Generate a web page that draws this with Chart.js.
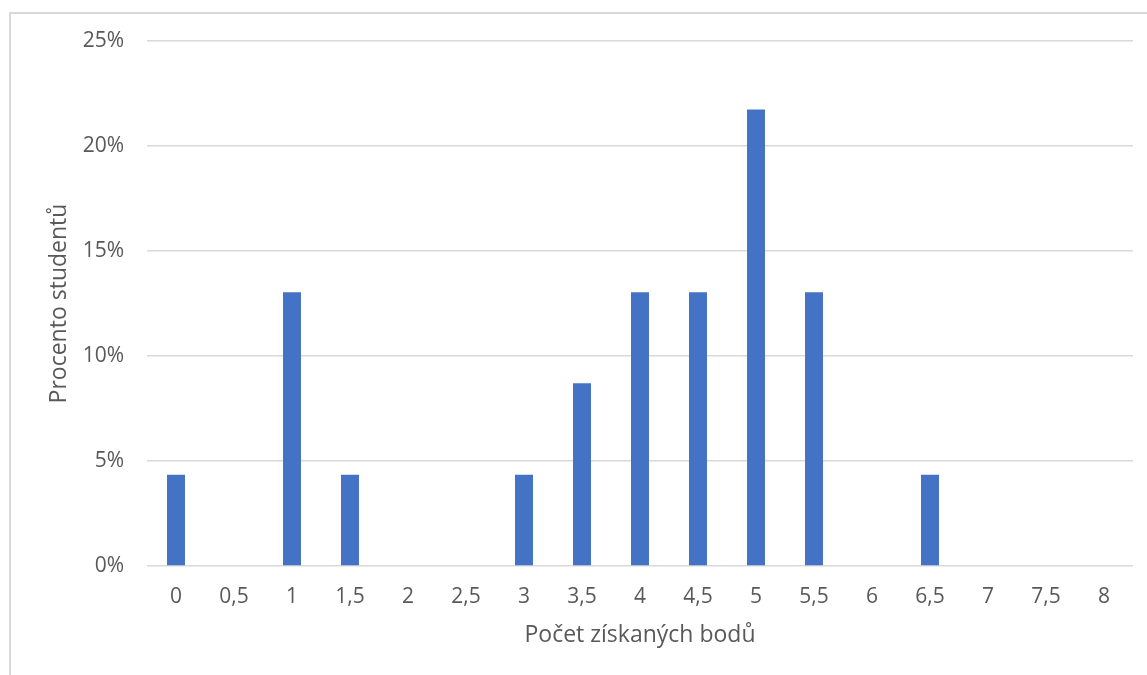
<!DOCTYPE html>
<html>
<head>
<meta charset="utf-8">
<script src="https://cdn.jsdelivr.net/npm/chart.js@4/dist/chart.umd.min.js"></script>
<style>
  html, body { margin: 0; padding: 0; background: #fff; }
  #wrap { width: 1147px; height: 675px; position: relative; }
</style>
</head>
<body>
<div id="wrap"><canvas id="c" width="1147" height="675"></canvas></div>
<script>
const categories = ["0", "0,5", "1", "1,5", "2", "2,5", "3", "3,5", "4", "4,5", "5", "5,5", "6", "6,5", "7", "7,5", "8"];
const percentStudents = [4.35, 0, 13.04, 4.35, 0, 0, 4.35, 8.70, 13.04, 13.04, 21.74, 13.04, 0, 4.35, 0, 0, 0];
const yTickMax = 25;
const yTickStep = 5;
const xTitle = "Počet získaných bodů";
const yTitle = "Procento studentů";

const textColor = "#595959";
const gridColor = "#D9D9D9";
const fontFamily = "'Open Sans', 'Noto Sans', sans-serif";

const borderPlugin = {
  id: "outerBorder",
  beforeDraw(chart) {
    const ctx = chart.ctx;
    ctx.save();
    ctx.fillStyle = "#fff";
    ctx.fillRect(0, 0, chart.width, chart.height);
    ctx.strokeStyle = gridColor;
    ctx.lineWidth = 2;
    ctx.strokeRect(10, 13, chart.width + 50, chart.height + 50);
    ctx.restore();
  }
};

new Chart(document.getElementById("c"), {
  type: "bar",
  data: {
    labels: categories,
    datasets: [{
      data: percentStudents,
      backgroundColor: "#4472C4",
      borderWidth: 0,
      barPercentage: 0.31,
      categoryPercentage: 1.0
    }]
  },
  plugins: [borderPlugin],
  options: {
    responsive: false,
    animation: false,
    layout: { padding: { left: 0, right: 14, top: 41, bottom: 0 } },
    plugins: { legend: { display: false }, tooltip: { enabled: false } },
    scales: {
      x: {
        grid: { display: false, drawTicks: false },
        border: { display: false },
        ticks: { color: textColor, font: { family: fontFamily, size: 21 }, padding: 18, maxRotation: 0, autoSkip: false },
        title: { display: true, text: xTitle, color: textColor, font: { family: fontFamily, size: 23 }, padding: { top: 0, bottom: 26 } },
        afterFit(scale) { scale.height = 109; }
      },
      y: {
        min: 0,
        max: yTickMax,
        grid: { color: gridColor, lineWidth: 1.5, drawTicks: false },
        border: { display: false },
        ticks: { stepSize: yTickStep, color: textColor, font: { family: fontFamily, size: 21 }, padding: 23, callback: v => v + "%" },
        title: { display: true, text: yTitle, color: textColor, font: { family: fontFamily, size: 23 }, padding: { top: 46, bottom: 0 } },
        afterFit(scale) { scale.width = 147; }
      }
    }
  }
});
</script>
</body>
</html>
